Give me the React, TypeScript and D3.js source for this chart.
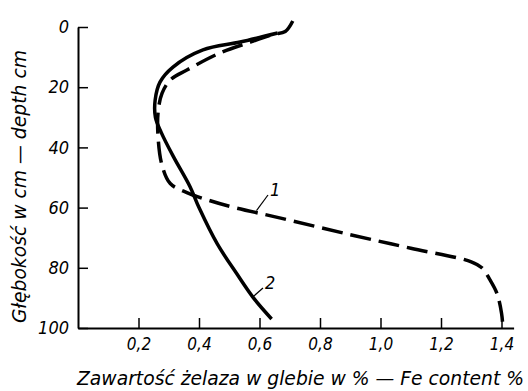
import React, { useEffect, useRef } from 'react';
import * as d3 from 'd3';

// depth in cm vs Fe content in %
const curve1Fe = [0.71, 0.685, 0.645, 0.57, 0.47, 0.36, 0.305, 0.278, 0.265, 0.265, 0.278, 0.305, 0.36, 0.43, 0.51, 0.67, 0.9, 1.1, 1.3, 1.335, 1.362, 1.385, 1.4, 1.405];
const curve1Depth = [-2, 1.5, 2.5, 5, 8.6, 14.3, 17.6, 22, 28, 37, 46, 52, 55, 57.5, 59.8, 63.5, 69, 73.5, 78, 80, 84, 88.5, 95, 100];

const curve2Fe = [0.66, 0.536, 0.413, 0.314, 0.271, 0.255, 0.256, 0.275, 0.315, 0.37, 0.4, 0.46, 0.525, 0.58, 0.64];
const curve2Depth = [2, 5, 7.6, 13.3, 18.3, 24.3, 30, 35, 43, 53, 60, 72, 82, 90, 97];

const xTicks = [0.2, 0.4, 0.6, 0.8, 1.0, 1.2, 1.4];
const yTicks = [0, 20, 40, 60, 80, 100];

const xTitle = 'Zawartość żelaza w glebie w % — Fe content %';
const yTitle = 'Głębokość w cm — depth cm';

const W = 528;
const H = 391;
const FONT = '"DejaVu Sans Condensed", "DejaVu Sans", sans-serif';

const App = () => {
  const svgRef = useRef<SVGSVGElement>(null);

  useEffect(() => {
    const svg = d3.select(svgRef.current);
    svg.selectAll('*').remove();

    const x = d3.scaleLinear().domain([0, 1.44]).range([78, 513.6]);
    const y = d3.scaleLinear().domain([0, 100]).range([27, 328]);

    const locale = d3.formatLocale({ decimal: ',', thousands: ' ', grouping: [3], currency: ['', ''] });
    const fmt = locale.format('.1f');

    // y axis, ticks pointing inward
    const yAxis = svg.append('g')
      .attr('transform', `translate(${x(0)},0)`)
      .call(d3.axisLeft(y).tickValues(yTicks).tickSizeInner(-10).tickSizeOuter(0).tickPadding(9).tickFormat(d => String(d)));
    yAxis.select('.domain').attr('stroke-width', 2);
    yAxis.selectAll('.tick line').attr('stroke-width', 1.5);
    yAxis.selectAll('.tick text')
      .attr('font-family', FONT)
      .attr('font-style', 'italic')
      .attr('font-size', 18)
      .attr('fill', '#000');

    // x axis
    const xAxis = svg.append('g')
      .attr('transform', `translate(0,${y(100)})`)
      .call(d3.axisBottom(x).tickValues(xTicks).tickSizeInner(-10).tickSizeOuter(0).tickPadding(10).tickFormat(d => fmt(d as number)));
    xAxis.select('.domain').attr('stroke-width', 2);
    xAxis.selectAll('.tick line').attr('stroke-width', 1.5);
    xAxis.selectAll('.tick text')
      .attr('font-family', FONT)
      .attr('font-style', 'italic')
      .attr('font-size', 17)
      .attr('fill', '#000');

    const line1 = d3.line<number>()
      .x(i => x(curve1Fe[i]))
      .y(i => y(curve1Depth[i]))
      .curve(d3.curveCatmullRom.alpha(0.5));
    const line2 = d3.line<number>()
      .x(i => x(curve2Fe[i]))
      .y(i => y(curve2Depth[i]))
      .curve(d3.curveCatmullRom.alpha(0.5));

    svg.append('path')
      .attr('d', line1(d3.range(curve1Fe.length)))
      .attr('fill', 'none')
      .attr('stroke', '#000')
      .attr('stroke-width', 3.5)
      .attr('stroke-dasharray', '21 8');

    svg.append('path')
      .attr('d', line2(d3.range(curve2Fe.length)))
      .attr('fill', 'none')
      .attr('stroke', '#000')
      .attr('stroke-width', 3.5);

    // curve labels with leaders
    const labels = [
      { t: '1', fe: 0.59, d: 61, lx: 268, ly: 195 },
      { t: '2', fe: 0.58, d: 89.5, lx: 263, ly: 288 },
    ];
    labels.forEach(l => {
      svg.append('line')
        .attr('x1', x(l.fe)).attr('y1', y(l.d))
        .attr('x2', l.lx).attr('y2', l.ly)
        .attr('stroke', '#000').attr('stroke-width', 1.2);
      svg.append('text')
        .attr('x', l.lx + 2).attr('y', l.ly + 1)
        .attr('font-family', FONT).attr('font-style', 'italic').attr('font-size', 18)
        .text(l.t);
    });

    // titles
    svg.append('text')
      .attr('x', 77).attr('y', 385)
      .attr('font-family', FONT).attr('font-style', 'italic').attr('font-size', 20)
      .attr('textLength', 447).attr('lengthAdjust', 'spacingAndGlyphs')
      .text(xTitle);

    svg.append('text')
      .attr('transform', 'translate(26,323) rotate(-90)')
      .attr('font-family', FONT).attr('font-style', 'italic').attr('font-size', 19)
      .attr('textLength', 273).attr('lengthAdjust', 'spacingAndGlyphs')
      .text(yTitle);
  }, []);

  return (
    <svg ref={svgRef} width={W} height={H} style={{ position: 'absolute', left: 0, top: 0, background: '#fff' }} />
  );
};

export default App;
